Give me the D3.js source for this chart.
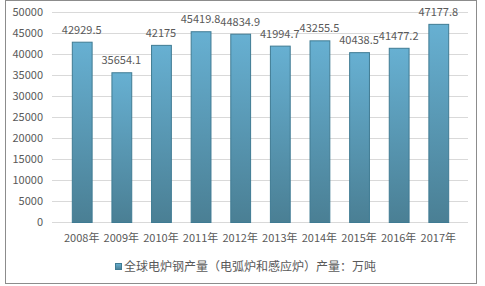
<html>
<head>
  <meta charset="utf-8">
  <script src="https://cdn.jsdelivr.net/npm/d3@7"></script>
  <style>
    body { margin: 0; background: #fff; }
    text { font-family: "Noto Sans CJK SC", "Noto Sans", sans-serif; fill: #595959; }
  </style>
</head>
<body>
  <script>
    // 数据
    const years = ["2008年", "2009年", "2010年", "2011年", "2012年", "2013年", "2014年", "2015年", "2016年", "2017年"];
    const values = [42929.5, 35654.1, 42175, 45419.8, 44834.9, 41994.7, 43255.5, 40438.5, 41477.2, 47177.8];
    const yTicks = [0, 5000, 10000, 15000, 20000, 25000, 30000, 35000, 40000, 45000, 50000];
    const seriesName = "全球电炉钢产量（电弧炉和感应炉）产量：万吨";

    const w = 485, h = 286;
    const plotLeft = 52, plotRight = 468, plotTop = 12, plotBottom = 222;

    const svg = d3.select("body").append("svg")
      .attr("width", w).attr("height", h);

    // 渐变
    const grad = svg.append("defs").append("linearGradient")
      .attr("id", "barGrad").attr("x1", 0).attr("y1", 0).attr("x2", 0).attr("y2", 1);
    grad.append("stop").attr("offset", "0%").attr("stop-color", "#67b0d2");
    grad.append("stop").attr("offset", "100%").attr("stop-color", "#4a7f94");

    // 外框
    svg.append("rect")
      .attr("x", 5.5).attr("y", 0.5).attr("width", 471).attr("height", 283)
      .attr("fill", "none").attr("stroke", "#8c8c8c");

    const x = d3.scaleBand().domain(years).range([plotLeft, plotRight]).padding(0.5);
    const y = d3.scaleLinear().domain([0, 50000]).range([plotBottom, plotTop]);

    // 网格线
    svg.append("g").selectAll("line")
      .data(yTicks).enter().append("line")
      .attr("x1", plotLeft).attr("x2", plotRight)
      .attr("y1", d => Math.round(y(d)) + 0.5).attr("y2", d => Math.round(y(d)) + 0.5)
      .attr("stroke", "#d9d9d9");

    // y 轴标签
    svg.append("g").selectAll("text")
      .data(yTicks).enter().append("text")
      .attr("x", 43).attr("y", d => y(d) + 4)
      .attr("text-anchor", "end").attr("font-size", 11)
      .text(d => d);

    // 柱子
    svg.append("g").selectAll("rect")
      .data(values).enter().append("rect")
      .attr("x", (d, i) => x(years[i]) + 0.5)
      .attr("y", d => y(d) + 0.5)
      .attr("width", x.bandwidth())
      .attr("height", d => plotBottom - y(d))
      .attr("fill", "url(#barGrad)")
      .attr("stroke", "#3f7b93").attr("stroke-width", 1);

    // 数值标签
    svg.append("g").selectAll("text")
      .data(values).enter().append("text")
      .attr("x", (d, i) => x(years[i]) + x.bandwidth() / 2)
      .attr("y", d => y(d) - 8)
      .attr("text-anchor", "middle").attr("font-size", 11)
      .text(d => d);

    // x 轴标签
    svg.append("g").selectAll("text")
      .data(years).enter().append("text")
      .attr("x", d => x(d) + x.bandwidth() / 2)
      .attr("y", 242)
      .attr("text-anchor", "middle").attr("font-size", 11)
      .text(d => d);

    // 图例
    svg.append("rect")
      .attr("x", 115.5).attr("y", 263.5).attr("width", 6).attr("height", 6)
      .attr("fill", "url(#barGrad)").attr("stroke", "#3f7b93");
    svg.append("text")
      .attr("x", 124).attr("y", 271).attr("font-size", 12)
      .text(seriesName);
  </script>
</body>
</html>
